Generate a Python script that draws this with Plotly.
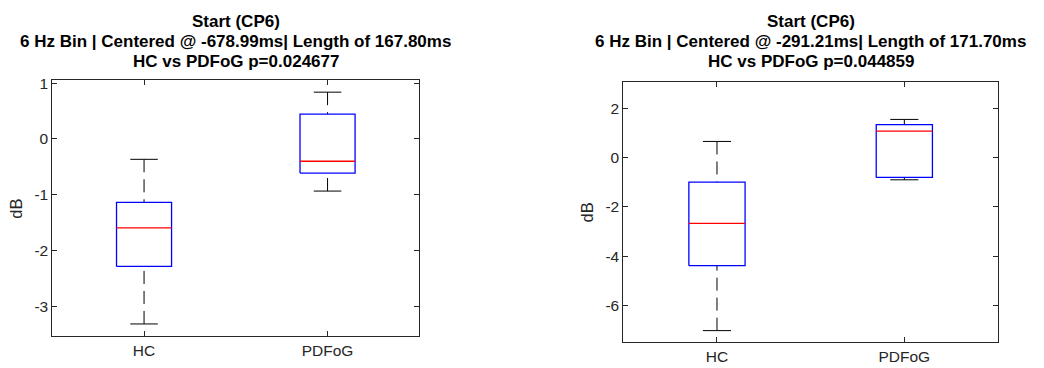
import plotly.graph_objects as go

# ---------------- data ----------------
categories = ["HC", "PDFoG"]

# left panel: -678.99 ms
left_upper = [-0.365, 0.84]
left_q3 = [-1.136, 0.446]
left_median = [-1.594, -0.40]
left_q1 = [-2.287, -0.612]
left_lower = [-3.32, -0.935]

# right panel: -291.21 ms
right_upper = [0.664, 1.56]
right_q3 = [-0.99, 1.345]
right_median = [-2.67, 1.08]
right_q1 = [-4.39, -0.80]
right_lower = [-7.03, -0.896]

left_title = ["Start (CP6)",
              "6 Hz Bin | Centered @ -678.99ms| Length of 167.80ms",
              "HC vs PDFoG p=0.024677"]
right_title = ["Start (CP6)",
               "6 Hz Bin | Centered @ -291.21ms| Length of 171.70ms",
               "HC vs PDFoG p=0.044859"]

left_yticks = [-3, -2, -1, 0, 1]
left_yticklabels = ["-3", "-2", "-1", "0", "1"]
right_yticks = [-6, -4, -2, 0, 2]
right_yticklabels = ["-6", "-4", "-2", "0", "2"]

# ---------------- style ----------------
W, H = 1044, 368
FONT = "Liberation Sans, Arial, sans-serif"
AXC = "#262626"
BOX_HALF = 0.15
CAP_HALF = 0.075

fig = go.Figure()


def add_boxes(xa, ya, upper, q3, med, q1, lower):
    pos = list(range(1, len(categories) + 1))
    wx, wy, cx, cy, bx, by, mx, my = [], [], [], [], [], [], [], []
    for p, u, a, m, b, lo in zip(pos, upper, q3, med, q1, lower):
        wx += [p, p, None, p, p, None]
        wy += [u, a, None, lo, b, None]
        cx += [p - CAP_HALF, p + CAP_HALF, None, p - CAP_HALF, p + CAP_HALF, None]
        cy += [u, u, None, lo, lo, None]
        bx += [p - BOX_HALF, p + BOX_HALF, p + BOX_HALF, p - BOX_HALF, p - BOX_HALF, None]
        by += [b, b, a, a, b, None]
        mx += [p - BOX_HALF, p + BOX_HALF, None]
        my += [m, m, None]
    common = dict(mode="lines", xaxis=xa, yaxis=ya, showlegend=False, hoverinfo="skip")
    fig.add_trace(go.Scatter(x=wx, y=wy, line=dict(color="black", width=1, dash="13px,7px"), **common))
    fig.add_trace(go.Scatter(x=cx, y=cy, line=dict(color="black", width=1), **common))
    fig.add_trace(go.Scatter(x=bx, y=by, line=dict(color="#0000FF", width=1.3), **common))
    fig.add_trace(go.Scatter(x=mx, y=my, line=dict(color="#FF0000", width=1.3), **common))


add_boxes("x", "y", left_upper, left_q3, left_median, left_q1, left_lower)
add_boxes("x2", "y2", right_upper, right_q3, right_median, right_q1, right_lower)

axis_common = dict(
    showline=True, linecolor=AXC, linewidth=1, mirror="ticks",
    ticks="inside", ticklen=5, tickwidth=1, tickcolor=AXC,
    showgrid=False, zeroline=False,
    tickfont=dict(family=FONT, size=15.5, color=AXC),
)

fig.update_layout(
    width=W, height=H, margin=dict(l=0, r=0, t=0, b=0),
    paper_bgcolor="white", plot_bgcolor="white",
    xaxis=dict(domain=[52.3 / W, 419.3 / W], range=[0.5, 2.5],
               tickvals=[1, 2], ticktext=categories, anchor="y", **axis_common),
    yaxis=dict(domain=[1 - 335.7 / H, 1 - 75.7 / H], range=[-3.54, 1.05],
               tickvals=left_yticks, ticktext=left_yticklabels, anchor="x", **axis_common),
    xaxis2=dict(domain=[623.3 / W, 998 / W], range=[0.5, 2.5],
                tickvals=[1, 2], ticktext=categories, anchor="y2", **axis_common),
    yaxis2=dict(domain=[1 - 342 / H, 1 - 77.3 / H], range=[-7.51, 3.08],
                tickvals=right_yticks, ticktext=right_yticklabels, anchor="x2", **axis_common),
)

# titles: three bold lines each, centred over the axes
line_centres_px = [15.8, 36.1, 56.4]
for xref, lines in (("x domain", left_title), ("x2 domain", right_title)):
    for txt, yc in zip(lines, line_centres_px):
        fig.add_annotation(text="<b>%s</b>" % txt, xref=xref, x=0.5, xanchor="center",
                           yref="paper", y=1 - yc / H, yanchor="middle",
                           showarrow=False, font=dict(family=FONT, size=17, color="black"))

# y-axis labels
for xref, yref in (("x domain", "y domain"), ("x2 domain", "y2 domain")):
    fig.add_annotation(text="dB", xref=xref, x=0, xanchor="center", xshift=-36,
                       yref=yref, y=0.5, yanchor="middle", textangle=-90,
                       showarrow=False, font=dict(family=FONT, size=16.5, color=AXC))

fig.write_html("out.html")
